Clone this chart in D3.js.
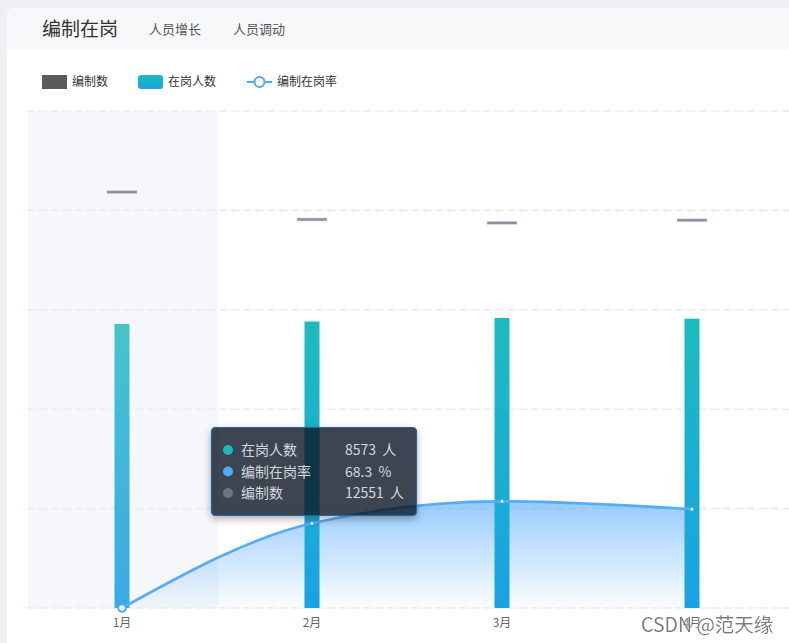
<!DOCTYPE html>
<html><head><meta charset="utf-8">
<script src="https://cdn.jsdelivr.net/npm/d3@7/dist/d3.min.js"></script>
<style>
html,body{margin:0;padding:0;background:#eef0f4;overflow:hidden;}
svg{display:block;font-family:"Noto Sans CJK SC","Noto Sans",sans-serif;}
</style></head>
<body>
<svg id="c" width="789" height="643"></svg>
<script>
const months = ["1月","2月","3月","4月"];
const staffQuota = [12551, 11726, 11626, 11701];   // 编制数
const onDuty = [8573, 8647, 8753, 8732];           // 在岗人数
const rate = [68.3, 73.7, 75.1, 74.6];             // 编制在岗率 (%)
const yTicks = [0, 3000, 6000, 9000, 12000, 15000];
const tabs = ["编制在岗", "人员增长", "人员调动"];
const legendNames = ["编制数", "在岗人数", "编制在岗率"];
const activeIndex = 0;

const svg = d3.select("#c");
const defs = svg.append("defs");

const barGrad = defs.append("linearGradient").attr("id","barG").attr("x1",0).attr("y1",0).attr("x2",0).attr("y2",1);
barGrad.append("stop").attr("offset","0%").attr("stop-color","#1bbcbd");
barGrad.append("stop").attr("offset","100%").attr("stop-color","#1aa2e4");
const barGradHi = defs.append("linearGradient").attr("id","barGH").attr("x1",0).attr("y1",0).attr("x2",0).attr("y2",1);
barGradHi.append("stop").attr("offset","0%").attr("stop-color","#45c4cb");
barGradHi.append("stop").attr("offset","100%").attr("stop-color","#3aaae6");
const legGrad = defs.append("linearGradient").attr("id","legG").attr("x1",0).attr("y1",0).attr("x2",0).attr("y2",1);
legGrad.append("stop").attr("offset","0%").attr("stop-color","#1bbcbd");
legGrad.append("stop").attr("offset","100%").attr("stop-color","#1aa2e4");
const areaGrad = defs.append("linearGradient").attr("id","areaG").attr("gradientUnits","userSpaceOnUse")
  .attr("x1",0).attr("y1",500).attr("x2",0).attr("y2",608);
areaGrad.append("stop").attr("offset","0%").attr("stop-color","#4fa8f9").attr("stop-opacity",0.6);
areaGrad.append("stop").attr("offset","100%").attr("stop-color","#4fa8f9").attr("stop-opacity",0.02);
const sh = defs.append("filter").attr("id","shadow").attr("x","-20%").attr("y","-20%").attr("width","140%").attr("height","160%");
sh.append("feGaussianBlur").attr("stdDeviation",4);
const wm = defs.append("filter").attr("id","wm");
wm.append("feDropShadow").attr("dx",0).attr("dy",0).attr("stdDeviation",0.8).attr("flood-color","#fff").attr("flood-opacity",1);

// card
svg.append("rect").attr("x",7).attr("y",8).attr("width",820).attr("height",700).attr("rx",7).attr("fill","#ffffff");
svg.append("path").attr("d","M7,50 V15 Q7,8 14,8 H827 V50 Z").attr("fill","#f7f8fa");

// tabs
svg.append("text").attr("x",42).attr("y",36).attr("font-size",19).attr("fill","#333").text(tabs[0]);
svg.append("text").attr("x",149).attr("y",34).attr("font-size",13).attr("fill","#555").text(tabs[1]);
svg.append("text").attr("x",233).attr("y",34).attr("font-size",13).attr("fill","#555").text(tabs[2]);

// legend
const lg = svg.append("g").attr("font-size",12).attr("fill","#333");
lg.append("rect").attr("x",42).attr("y",75).attr("width",25).attr("height",14).attr("fill","#5b5b5b");
lg.append("text").attr("x",72).attr("y",86).text(legendNames[0]);
lg.append("rect").attr("x",138).attr("y",75).attr("width",25).attr("height",14).attr("rx",3).attr("fill","url(#legG)");
lg.append("text").attr("x",168).attr("y",86).text(legendNames[1]);
lg.append("line").attr("x1",247).attr("x2",272).attr("y1",82).attr("y2",82).attr("stroke","#4fa8f9").attr("stroke-width",2);
lg.append("circle").attr("cx",259.5).attr("cy",82).attr("r",5).attr("fill","#fff").attr("stroke","#4fa8f9").attr("stroke-width",2);
lg.append("text").attr("x",277).attr("y",86).text(legendNames[2]);

// scales
const x = d3.scaleBand().domain(months).range([27, 787]);
const y = d3.scaleLinear().domain([0, 15000]).range([608, 111]);
const yR = d3.scaleLinear().domain([68.3, 100]).range([608, 111]);
const cx = m => x(m) + x.bandwidth()/2;

// axis pointer shadow
svg.append("rect").attr("x",x(months[activeIndex])+1).attr("y",y(15000)).attr("width",x.bandwidth())
  .attr("height",y(0)-y(15000)).attr("fill","#f5f7fb");

// grid
svg.append("g").selectAll("line").data(yTicks).join("line")
  .attr("x1",27).attr("x2",789).attr("y1",d=>y(d)).attr("y2",d=>y(d))
  .attr("stroke","#e8ecf2").attr("stroke-width",1.6).attr("stroke-dasharray","8,4");

// area under rate line
const pts = months.map((m,i)=>[cx(m), yR(rate[i])]);
const area = d3.area().x(d=>d[0]).y0(608).y1(d=>d[1]).curve(d3.curveMonotoneX);
svg.append("path").attr("d",area(pts)).attr("fill","url(#areaG)");

// bars
svg.append("g").selectAll("rect").data(onDuty).join("rect")
  .attr("x",(d,i)=>cx(months[i])-7.5).attr("width",15)
  .attr("y",d=>y(d)).attr("height",d=>y(0)-y(d))
  .attr("fill",(d,i)=> i===activeIndex ? "url(#barGH)" : "url(#barG)");

// quota markers
svg.append("g").selectAll("rect").data(staffQuota).join("rect")
  .attr("x",(d,i)=>cx(months[i])-15).attr("width",30)
  .attr("y",d=>y(d)-1.5).attr("height",3)
  .attr("fill","#8a909e").attr("stroke","#d3d7de").attr("stroke-width",0.6);

// rate line
const line = d3.line().x(d=>d[0]).y(d=>d[1]).curve(d3.curveMonotoneX);
svg.append("path").attr("d",line(pts)).attr("fill","none").attr("stroke","#55acfb").attr("stroke-width",2.6);
svg.append("g").selectAll("circle").data(pts).join("circle")
  .attr("cx",d=>d[0]).attr("cy",d=>d[1])
  .attr("r",(d,i)=> i===activeIndex ? 3.8 : 1.8)
  .attr("fill","#fff").attr("stroke","#4fa8f9").attr("stroke-width",(d,i)=> i===activeIndex ? 2 : 0.8);

// x axis labels
svg.append("g").selectAll("text").data(months).join("text")
  .attr("x",d=>cx(d)).attr("y",627).attr("text-anchor","middle")
  .attr("font-size",12).attr("fill","#666").text(d=>d);

// tooltip
const tx = 211.5, ty = 427.5, tw = 205, th = 88;
const mask = defs.append("mask").attr("id","ttMask");
mask.append("rect").attr("x",0).attr("y",0).attr("width",789).attr("height",643).attr("fill","#fff");
mask.append("rect").attr("x",tx).attr("y",ty).attr("width",tw).attr("height",th).attr("rx",4).attr("fill","#000");
svg.append("g").attr("mask","url(#ttMask)")
  .append("rect").attr("x",tx).attr("y",ty+3).attr("width",tw).attr("height",th).attr("rx",4)
  .attr("fill","rgba(0,0,0,0.35)").attr("filter","url(#shadow)");
const tt = svg.append("g").attr("transform",`translate(${tx},${ty})`);
tt.append("rect").attr("width",tw).attr("height",th).attr("rx",4)
  .attr("fill","rgba(11,22,36,0.8)").attr("stroke","#2265a8").attr("stroke-width",1.2);
const rows = [
  {c:"#1bbcbd", n:legendNames[1], v:onDuty[activeIndex]+"  人"},
  {c:"#4fa8f9", n:legendNames[2], v:rate[activeIndex].toFixed(1)+"  %"},
  {c:"#6e7484", n:legendNames[0], v:staffQuota[activeIndex]+"  人"}
];
rows.forEach((r,i)=>{
  const yy = 22.5 + i*21.5;
  tt.append("circle").attr("cx",16.5).attr("cy",yy).attr("r",5).attr("fill",r.c);
  tt.append("text").attr("x",29.5).attr("y",yy+5).attr("font-size",14).attr("fill","#d5d8dd").text(r.n);
  tt.append("text").attr("x",133.5).attr("y",yy+5).attr("font-size",14).attr("fill","#d5d8dd")
    .attr("xml:space","preserve").style("white-space","pre").text(r.v);
});

// watermark
svg.append("text").attr("x",641).attr("y",632).attr("font-size",19.5).attr("fill","#7a7a7a")
  .attr("filter","url(#wm)").text("CSDN @范天缘");
</script>
</body></html>
